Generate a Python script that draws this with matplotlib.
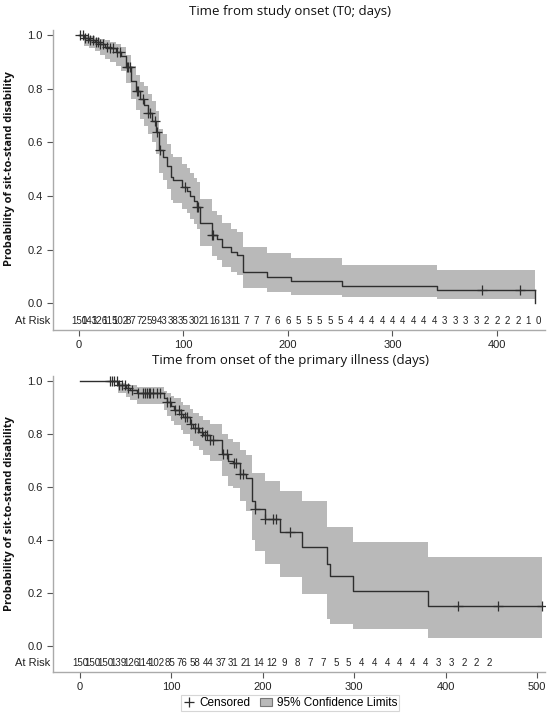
import numpy as np
import matplotlib
matplotlib.use("Agg")
import matplotlib.pyplot as plt
from matplotlib.lines import Line2D
from matplotlib.patches import Patch

# ---------------- data: top panel (time from study onset) ----------------
top_t = [0, 5, 10, 15, 20, 25, 30, 35, 40, 45, 50, 55, 58, 62, 66, 70, 74, 77, 80,
         84, 88, 90, 99, 103, 106, 110, 113, 116, 127, 132, 137, 145, 151, 157, 180,
         203, 252, 343]
top_s = [1.0, 0.99, 0.98, 0.975, 0.965, 0.955, 0.95, 0.935, 0.92, 0.88, 0.83, 0.79,
         0.76, 0.74, 0.71, 0.68, 0.64, 0.57, 0.545, 0.51, 0.47, 0.46, 0.435, 0.42,
         0.40, 0.38, 0.36, 0.30, 0.256, 0.24, 0.21, 0.19, 0.18, 0.115, 0.097, 0.082,
         0.063, 0.048]
top_lo = [1.0, 0.96, 0.95, 0.94, 0.925, 0.91, 0.90, 0.885, 0.865, 0.82, 0.76, 0.72,
          0.685, 0.66, 0.63, 0.60, 0.555, 0.485, 0.46, 0.425, 0.385, 0.375, 0.35,
          0.335, 0.315, 0.295, 0.275, 0.215, 0.175, 0.16, 0.135, 0.115, 0.105, 0.055,
          0.04, 0.03, 0.022, 0.015]
top_hi = [1.0, 1.0, 0.995, 0.99, 0.985, 0.98, 0.975, 0.965, 0.955, 0.925, 0.885, 0.85,
          0.825, 0.81, 0.78, 0.755, 0.715, 0.65, 0.63, 0.595, 0.555, 0.545, 0.52,
          0.505, 0.485, 0.465, 0.45, 0.39, 0.345, 0.33, 0.30, 0.275, 0.265, 0.21,
          0.186, 0.167, 0.141, 0.123]
top_end = 436
top_end_s = 0.0
top_cens = [1, 4, 6, 9, 10.5, 13, 16, 18, 20, 23, 27, 30, 32.5, 36, 39, 46, 47, 49,
            55.5, 56.5, 61, 66, 68, 73, 75, 77.5, 101, 113, 114, 127, 128, 386, 422]
top_risk_t = list(range(0, 441, 10))
top_risk_n = [150, 143, 126, 115, 102, 87, 72, 59, 43, 38, 35, 30, 21, 16, 13, 11, 7, 7,
              7, 6, 6, 5, 5, 5, 5, 5, 4, 4, 4, 4, 4, 4, 4, 4, 4, 3, 3, 3, 3, 2, 2,
              2, 2, 1, 0]
top_xticks = [0, 100, 200, 300, 400]

# ---------------- data: bottom panel (time from onset of primary illness) ----------------
bot_t = [0, 42, 50, 55, 62, 92, 95, 100, 103, 110, 113, 120, 124, 130, 135, 142, 155,
         162, 167, 175, 182, 188, 191, 202, 219, 243, 270, 274, 299, 381]
bot_s = [1.0, 0.985, 0.975, 0.966, 0.954, 0.935, 0.92, 0.905, 0.89, 0.875, 0.863, 0.84,
         0.825, 0.81, 0.795, 0.776, 0.726, 0.70, 0.69, 0.65, 0.635, 0.548, 0.517, 0.48,
         0.43, 0.373, 0.31, 0.262, 0.205, 0.148]
bot_lo = [1.0, 0.955, 0.94, 0.93, 0.915, 0.89, 0.87, 0.85, 0.835, 0.815, 0.80, 0.775,
          0.755, 0.74, 0.72, 0.70, 0.64, 0.605, 0.595, 0.548, 0.51, 0.40, 0.357, 0.31,
          0.259, 0.194, 0.10, 0.08, 0.061, 0.027]
bot_hi = [1.0, 0.995, 0.99, 0.985, 0.978, 0.965, 0.955, 0.945, 0.935, 0.92, 0.91, 0.895,
          0.88, 0.87, 0.855, 0.84, 0.80, 0.78, 0.77, 0.74, 0.72, 0.654, 0.654, 0.624,
          0.586, 0.548, 0.449, 0.449, 0.392, 0.335]
bot_end = 505
bot_cens = [33, 35, 37, 40, 43, 46, 49, 53, 57, 64, 69, 71, 73, 75, 77, 80, 84, 88, 95,
            99, 104, 108, 110, 115, 117, 122, 126, 129, 133, 137, 139, 142, 146, 157,
            161, 168, 171, 175, 178, 192, 202, 211, 214, 230, 414, 457, 505]
bot_risk_t = list(range(0, 449, 14))
bot_risk_n = [150, 150, 150, 139, 126, 114, 102, 85, 76, 58, 44, 37, 31, 21, 14, 12, 9,
              8, 7, 7, 5, 5, 4, 4, 4, 4, 4, 4, 3, 3, 2, 2, 2]
bot_xticks = [0, 100, 200, 300, 400, 500]

yticks = [0.0, 0.2, 0.4, 0.6, 0.8, 1.0]

BAND = "#b9b9b9"
LINE = "#2e2e2e"
TXT = "#222222"

plt.rcParams["font.family"] = ["Liberation Sans", "DejaVu Sans"]

fig = plt.figure(figsize=(5.5, 7.15), dpi=100)
W, H = 550, 715


def px_axes(left, top, right, bottom):
    return fig.add_axes([left / W, 1 - bottom / H, (right - left) / W, (bottom - top) / H])


def draw_panel(ax, t, s, lo, hi, end_t, end_s, cens, risk_t, risk_n, xlim, xticks,
               title, title_y):
    tb = list(t) + [end_t]
    lob = list(lo) + [lo[-1]]
    hib = list(hi) + [hi[-1]]
    ax.fill_between(tb, lob, hib, step="post", color=BAND, linewidth=0, zorder=1)
    ts = list(t) + [end_t]
    ss = list(s) + [s[-1]]
    ax.step(ts, ss, where="post", color=LINE, linewidth=1.0, zorder=3)
    if end_s != s[-1]:
        ax.plot([end_t, end_t], [s[-1], end_s], color=LINE, linewidth=1.0, zorder=3)
    ta = np.asarray(t)
    sa = np.asarray(s)
    idx = np.searchsorted(ta, np.asarray(cens), side="right") - 1
    ax.plot(cens, sa[idx], linestyle="none", marker="+", markersize=7,
            markeredgewidth=0.9, color=LINE, zorder=4)
    for rt, rn in zip(risk_t, risk_n):
        ax.text(rt, -0.065, str(rn), ha="center", va="center", fontsize=7,
                color=TXT, zorder=5)
    ax.text(-0.005, -0.065, "At Risk", transform=ax.get_yaxis_transform(),
            ha="right", va="center", fontsize=8, color=TXT)
    ax.set_xlim(*xlim)
    ax.set_ylim(-0.1, 1.02)
    ax.set_xticks(xticks)
    ax.set_yticks(yticks)
    ax.set_yticklabels([f"{v:.1f}" for v in yticks])
    ax.tick_params(axis="both", labelsize=8, colors="#555555", labelcolor=TXT,
                   length=4, width=0.8)
    for sp in ("top", "right"):
        ax.spines[sp].set_visible(False)
    for sp in ("left", "bottom"):
        ax.spines[sp].set_color("#aaaaaa")
        ax.spines[sp].set_linewidth(1.0)
    ax.set_ylabel("Probability of sit-to-stand disability", fontsize=8,
                  fontweight="bold", family=["Open Sans", "DejaVu Sans"],
                  color="#111111")
    ax.yaxis.set_label_coords(-0.078, 0.536)
    fig.text(290 / W, 1 - title_y / H, title, ha="center", va="center", fontsize=9.5,
             family=["Open Sans", "DejaVu Sans"], color="#111111")


ax1 = px_axes(53, 29.6, 545, 330)
draw_panel(ax1, top_t, top_s, top_lo, top_hi, top_end, top_end_s, top_cens,
           top_risk_t, top_risk_n, (-24.9, 446), top_xticks,
           "Time from study onset (T0; days)", 12)

ax2 = px_axes(53, 376, 545, 672)
draw_panel(ax2, bot_t, bot_s, bot_lo, bot_hi, bot_end, bot_s[-1], bot_cens,
           bot_risk_t, bot_risk_n, (-29.5, 508.7), bot_xticks,
           "Time from onset of the primary illness (days)", 360)

handles = [
    Line2D([], [], linestyle="none", marker="+", markersize=7, markeredgewidth=0.9,
           color=LINE, label="Censored"),
    Patch(facecolor=BAND, edgecolor="#777777", linewidth=0.8,
          label="95% Confidence Limits"),
]
leg = fig.legend(handles=handles, loc="center", bbox_to_anchor=(290 / W, 1 - 703 / H),
                 ncol=2, fontsize=8.5, frameon=True, handlelength=1.0,
                 handletextpad=0.4, columnspacing=0.8, borderpad=0.2, fancybox=False)
leg.get_frame().set_edgecolor("#cccccc")
leg.get_frame().set_linewidth(0.8)

fig.savefig("out.png", dpi=100, facecolor="white")
